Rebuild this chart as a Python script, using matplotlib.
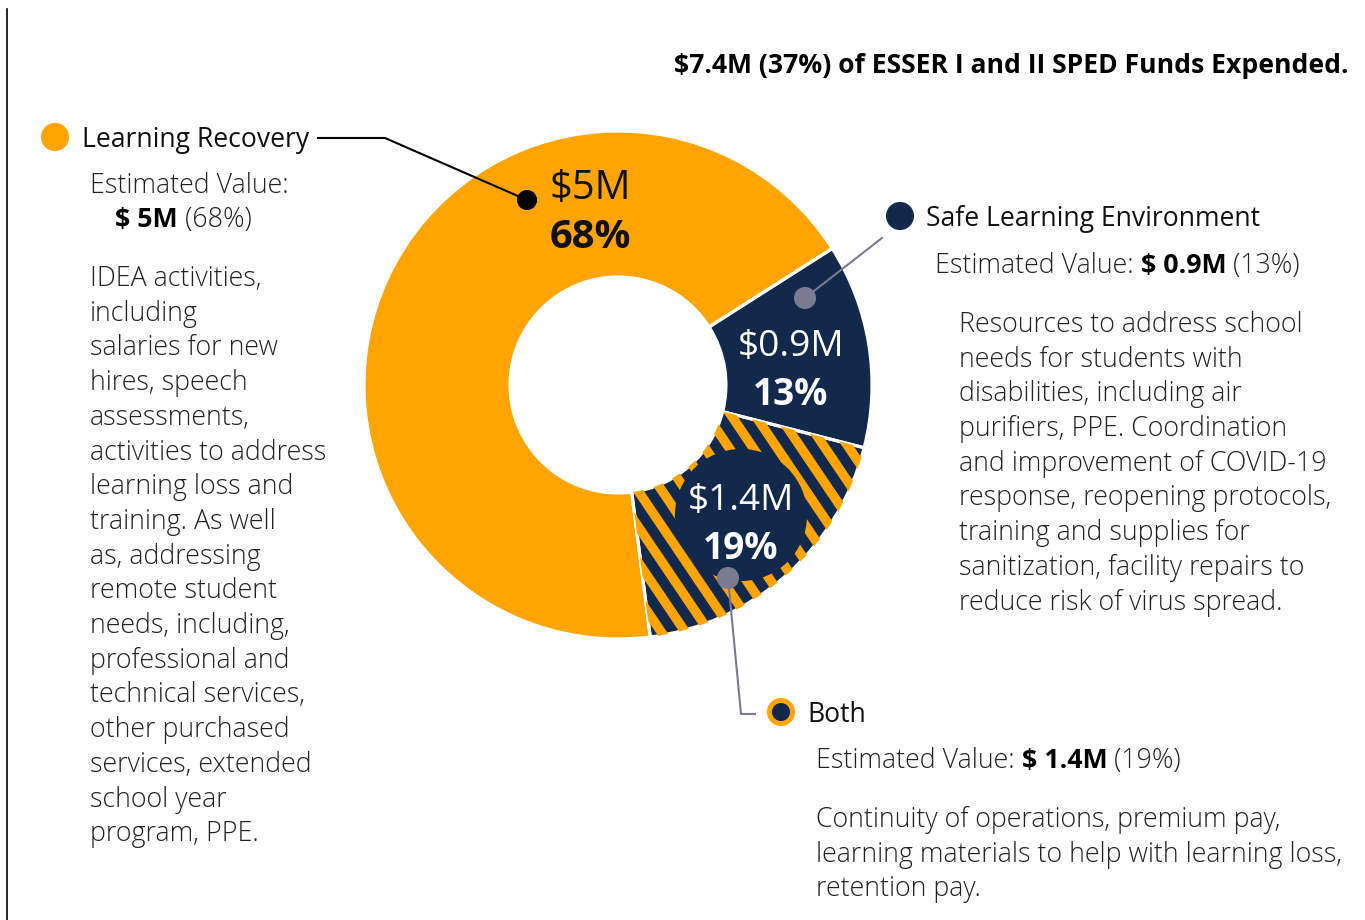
import matplotlib
matplotlib.use("Agg")
import numpy as np
import matplotlib.pyplot as plt
from matplotlib.patches import Circle

# ----------------------------------------
# data
# ----------------------------------------
categories = ["Safe Learning Environment", "Both", "Learning Recovery"]
shares = [13, 19, 68]
amounts = ["$0.9M", "$1.4M", "$5M"]
amount_bold = ["$ 0.9M", "$ 1.4M", "$ 5M"]
title = "$7.4M (37%) of ESSER I and II SPED Funds Expended."

lr_body = ["IDEA activities,", "including", "salaries for new", "hires, speech",
           "assessments,", "activities to address", "learning loss and",
           "training. As well", "as, addressing", "remote student",
           "needs, including,", "professional and", "technical services,",
           "other purchased", "services, extended", "school year", "program, PPE."]
safe_body = ["Resources to address school", "needs for students with",
             "disabilities, including air", "purifiers, PPE. Coordination",
             "and improvement of COVID-19", "response, reopening protocols,",
             "training and supplies for", "sanitization, facility repairs to",
             "reduce risk of virus spread."]
both_body = ["Continuity of operations, premium pay,",
             "learning materials to help with learning loss,",
             "retention pay."]

# ----------------------------------------
# style
# ----------------------------------------
W, H, DPI = 1365, 920, 150
ORANGE = "#ffa400"
NAVY = "#13294b"
GREY = "#7a7a92"
TXT = "#222222"
BODY = 26.7
plt.rcParams["font.family"] = ["Open Sans", "DejaVu Sans"]


def fs(px):
    return px * 72 / DPI


def Y(y):
    return H - y


fig = plt.figure(figsize=(W / DPI, H / DPI), dpi=DPI)
ax = fig.add_axes([0, 0, 1, 1])

# ----------------------------------------
# donut
# ----------------------------------------
cx, cy, R, r_in = 618, Y(385), 254, 108
wedges, _ = ax.pie(shares, colors=[NAVY, NAVY, ORANGE], startangle=32.5,
                   counterclock=False, center=(cx, cy), radius=R,
                   wedgeprops=dict(width=R - r_in, linewidth=0))
both = wedges[1]

# diagonal orange stripes on the "Both" slice
ang = np.deg2rad(-56)
d = np.array([np.cos(ang), np.sin(ang)])
t = np.array([-400, 400])
for x0 in np.arange(480, 1000, 24):
    ln, = ax.plot(x0 + t * d[0], Y(470) + t * d[1], color=ORANGE, lw=fs(9.5),
                  solid_capstyle="butt", zorder=both.get_zorder() + 0.05)
    ln.set_clip_path(both)

blob = Circle((741, Y(515)), 65, color=NAVY, zorder=both.get_zorder() + 0.1)
ax.add_patch(blob)
blob.set_clip_path(both)

ax.pie(shares, startangle=32.5, counterclock=False, center=(cx, cy), radius=R,
       wedgeprops=dict(width=R - r_in, fill=False, edgecolor="white", linewidth=1.5))

ax.set_xlim(0, W)
ax.set_ylim(0, H)
ax.set_aspect("equal")
ax.axis("off")

# values inside the ring
in_pos = [(791, 347), (741, 501), (590, 189)]
in_col = ["white", "white", "#111111"]
in_size = [37, 37, 40]
for amt, pct, (x, y), c, s in zip(amounts, shares, in_pos, in_col, in_size):
    ax.text(x, Y(y), amt, ha="center", va="center", fontsize=fs(s), color=c,
            zorder=10)
    ax.text(x, Y(y + 48), f"{pct}%", ha="center", va="center",
            fontsize=fs(s), color=c, fontweight="bold", zorder=10)

# ----------------------------------------
# text helpers
# ----------------------------------------
renderer = fig.canvas.get_renderer()


def rich(x, y, parts, size=BODY):
    for txt, weight in parts:
        t = ax.text(x, Y(y), txt, ha="left", va="center", fontsize=fs(size),
                    color=TXT if weight != "bold" else "black", fontweight=weight)
        bb = t.get_window_extent(renderer)
        x = bb.x1 * W / fig.bbox.width


def block(x, y0, lines, step=34.7, size=BODY):
    for i, line in enumerate(lines):
        ax.text(x, Y(y0 + i * step), line, ha="left", va="center",
                fontsize=fs(size), color=TXT, fontweight="light")


ax.text(1348, Y(66), title, ha="right", va="center", fontsize=fs(26.5),
        fontweight="bold", color="black")

# Learning Recovery
ax.add_patch(Circle((55, Y(137)), 13, color=ORANGE))
ax.text(82, Y(140), categories[2], ha="left", va="center", fontsize=fs(26.5), color="#111")
ax.plot([318, 385, 527], [Y(138), Y(138), Y(200)], color="black", lw=1.0)
ax.add_patch(Circle((527, Y(200)), 9, color="black", zorder=11))
rich(90, 186, [("Estimated Value:", "light")])
rich(115, 220, [(amount_bold[2], "bold"), (" (68%)", "light")])
block(90, 279, lr_body)

# Safe Learning Environment
ax.add_patch(Circle((900, Y(216)), 13, color=NAVY))
ax.text(926, Y(219), categories[0], ha="left", va="center", fontsize=fs(26.5), color="#111")
ax.plot([805, 882], [Y(298), Y(238)], color=GREY, lw=1.0, zorder=11)
ax.add_patch(Circle((805, Y(298)), 10, color=GREY, zorder=11))
rich(935, 266, [("Estimated Value: ", "light"), (amount_bold[0], "bold"), (" (13%)", "light")])
block(959, 325, safe_body)

# Both
ax.add_patch(Circle((781, Y(712)), 13, color=ORANGE))
ax.add_patch(Circle((781, Y(712)), 8, color=NAVY))
ax.text(807, Y(715), categories[1], ha="left", va="center", fontsize=fs(26.5), color="#111")
ax.plot([728, 741, 755], [Y(578), Y(714), Y(714)], color=GREY, lw=1.0, zorder=11)
ax.add_patch(Circle((728, Y(578)), 10, color=GREY, zorder=11))
rich(816, 761, [("Estimated Value: ", "light"), (amount_bold[1], "bold"), (" (19%)", "light")])
block(816, 820, both_body)

# left rule
ax.plot([7, 7], [Y(9), 0], color="black", lw=0.8)

fig.savefig("out.png", dpi=DPI)
